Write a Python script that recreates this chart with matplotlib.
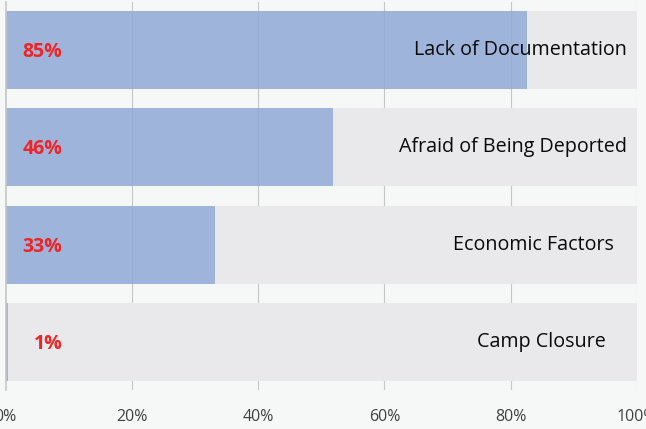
import matplotlib
matplotlib.use("Agg")
import matplotlib.pyplot as plt

categories = ["Lack of Documentation", "Afraid of Being Deported", "Economic Factors", "Camp Closure"]
bar_values = [82.6, 51.9, 33.2, 0.4]
value_labels = ["85%", "46%", "33%", "1%"]
xticks = [0, 20, 40, 60, 80, 100]
xtick_labels = ["0%", "20%", "40%", "60%", "80%", "100%"]

# style: right edge of category label (data units)
label_right = [98.4, 98.4, 96.4, 95.1]

bg = "#f6f8f8"
fig = plt.figure(figsize=(6.46, 4.29), dpi=100, facecolor=bg)
ax = fig.add_axes([5.5 / 646, 1 - 390 / 429, (637 - 5.5) / 646, 388 / 429])
ax.set_facecolor(bg)

ypos = list(range(len(categories)))
ax.barh(ypos, bar_values, height=0.8, color="#93abd8", alpha=0.88, zorder=3, linewidth=0)
ax.barh(ypos, [100 - v for v in bar_values], left=bar_values, height=0.8,
        color="#e9e9eb", zorder=3, linewidth=0)

for x in xticks[1:]:
    ax.axvline(x, color="#c6c6c6", linewidth=0.8, zorder=2)

for y, lab in zip(ypos, value_labels):
    ax.text(9.0, y + 0.02, lab, ha="right", va="center", color="#f02424",
            fontsize=14, fontweight="bold", family="Open Sans", zorder=5)
for y, cat, xr in zip(ypos, categories, label_right):
    ax.text(xr, y, cat, ha="right", va="center", color="#0a0a0a",
            fontsize=14.2, family="Open Sans", zorder=5)

ax.set_xlim(0, 100)
ax.set_ylim(3.493, -0.493)
ax.set_xticks(xticks)
ax.set_xticklabels(xtick_labels, fontsize=11.5, color="#404040", family="Open Sans")
ax.tick_params(axis="x", length=0, pad=14)
ax.set_yticks([])
for s in ["top", "right", "bottom"]:
    ax.spines[s].set_visible(False)
ax.spines["left"].set_color("#c6c6c6")
ax.spines["left"].set_linewidth(1.2)
ax.spines["left"].set_zorder(4)

fig.savefig("out.png", dpi=100, facecolor=bg)
